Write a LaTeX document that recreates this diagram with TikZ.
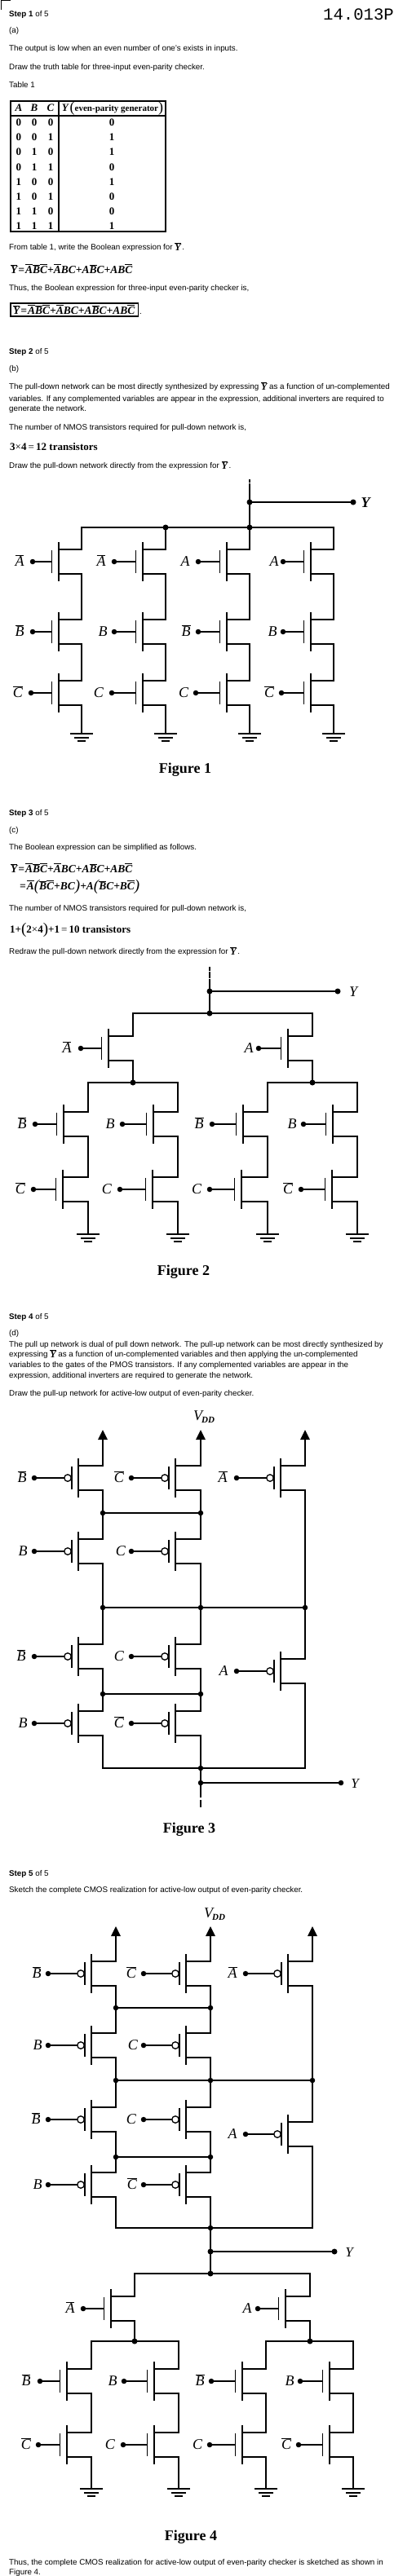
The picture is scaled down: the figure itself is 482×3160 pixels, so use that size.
\documentclass[tikz,border=0pt]{standalone}
\usepackage{fontspec}
\usetikzlibrary{arrows.meta}
\setmainfont{Liberation Sans}
\newfontfamily\ser{Liberation Serif}
\newfontfamily\mon{Liberation Mono}
\newcommand\fs[1]{\fontsize{#1}{#1}\selectfont}
\newcommand\bb[1]{\ensuremath{\overline{\mbox{#1}}}}
\newcommand\fmt{\ser\bfseries\itshape\fs{13.5}}
\newcommand\ybar{\raisebox{-1.5pt}{\ser\bfseries\itshape\fs{12}\bb{Y}}}
\tikzset{
  x=1pt,y=-1pt,
  txt/.style={anchor=base west,inner sep=0pt,font=\fs{9.8}},
  ftxt/.style={anchor=base west,inner sep=0pt,font=\fmt},
  btxt/.style={anchor=base west,inner sep=0pt,font=\ser\bfseries\fs{13}},
  figcap/.style={anchor=base,inner sep=0pt,font=\ser\bfseries\fs{18}},
  lab/.style={anchor=base,inner sep=0pt,font=\ser\itshape\fs{18}},
  ylab/.style={anchor=base,inner sep=0pt,font=\ser\bfseries\itshape\fs{18}},
  wire/.style={line width=1.4pt,line cap=rect,line join=miter},
  hwire/.style={line width=1.8pt,line cap=rect,line join=miter},
  gdot/.style={circle,fill=black,inner sep=0pt,minimum size=6.5pt},
  jdot/.style={circle,fill=black,inner sep=0pt,minimum size=7pt},
  bub/.style={circle,draw=black,fill=white,line width=1.3pt,inner sep=0pt,minimum size=8.5pt},
  cell/.style={anchor=base,inner sep=0pt,font=\ser\bfseries\fs{13}},
  vdd/.style={wire,-{Triangle[length=12pt,width=11.5pt]}},
}
% name, channel x, centre y, right x, dot x, label, label x
\newcommand\nmo[7]{%
  \coordinate (#1-d) at (#4,#3-15);
  \coordinate (#1-s) at (#4,#3+15);
  \node[gdot] (#1-g) at (#5,#3) {};
  \node[lab] (#1-l) at (#7,#3+5.5) {#6};
  \draw[wire] (#1-g) -- (#2-8.5,#3);
  \draw[wire] (#2-8.5,#3-13) -- (#2-8.5,#3+13);
  \draw[wire] (#2,#3-23) -- (#2,#3+23);
  \draw[wire] (#2,#3-15) -- (#1-d);
  \draw[wire] (#2,#3+15) -- (#1-s);
}
\newcommand\pmo[7]{%
  \coordinate (#1-d) at (#4,#3-15);
  \coordinate (#1-s) at (#4,#3+15);
  \node[gdot] (#1-g) at (#5,#3) {};
  \node[lab] (#1-l) at (#7,#3+5.5) {#6};
  \node[bub] (#1-b) at (#2-13,#3) {};
  \draw[wire] (#1-g) -- (#1-b);
  \draw[wire] (#2-8,#3-13) -- (#2-8,#3+13);
  \draw[wire] (#2,#3-23) -- (#2,#3+23);
  \draw[wire] (#2,#3-15) -- (#1-d);
  \draw[wire] (#2,#3+15) -- (#1-s);
}
% name, x, y
\newcommand\gnd[3]{%
  \coordinate (#1) at (#2,#3);
  \draw[wire] (#2-13.5,#3) -- (#2+13.5,#3);
  \draw[wire] (#2-8,#3+5) -- (#2+8,#3+5);
  \draw[wire] (#2-4,#3+9) -- (#2+4,#3+9);
}
\newcommand\sumexp{\bb{Y}\kern1pt=\kern1pt\bb{A}\bb{B}\bb{C}+\bb{A}BC+A\bb{B}C+AB\bb{C}}
\newcommand\bigp[1]{{\ser\mdseries\fs{19}\raisebox{-1.5pt}{#1}}}
\begin{document}
\begin{tikzpicture}
\useasboundingbox (0,0) rectangle (482,3160);
% corner mark and page number
\coordinate (cm1) at (1,12); \coordinate (cm2) at (1,1); \coordinate (cm3) at (12,1);
\draw[wire,line width=1pt] (cm1) -- (cm2) -- (cm3);
\node[anchor=base west,inner sep=0pt,font=\mon\fs{20.6}] (pno) at (396,25) {14.013P};
% Step 1
\node[txt] (t1) at (11,21) {\textbf{Step 1} of 5};
\node[txt] (t2) at (11,41) {(a)};
\node[txt] (t3) at (11,63) {The output is low when an even number of one's exists in inputs.};
\node[txt] (t4) at (11,86) {Draw the truth table for three-input even-parity checker.};
\node[txt] (t5) at (11,108) {Table 1};
% table
\draw[wire] (13,124) rectangle (203,284);
\coordinate (h1) at (13,142); \coordinate (h2) at (203,142);
\coordinate (v1) at (72,124); \coordinate (v2) at (72,284);
\draw[wire] (h1) -- (h2);
\draw[wire] (v1) -- (v2);
\node[cell,font=\ser\bfseries\itshape\fs{13}] (ha) at (23,137) {A};
\node[cell,font=\ser\bfseries\itshape\fs{13}] (hb) at (42,137) {B};
\node[cell,font=\ser\bfseries\itshape\fs{13}] (hc) at (62,137) {C};
\node[cell,font=\ser\bfseries\fs{11}] (hy) at (138,137) {{\itshape\fs{13}Y}\,{\ser\mdseries\fs{18}\raisebox{-1pt}{(}}even-parity generator{\ser\mdseries\fs{18}\raisebox{-1pt}{)}}};
\foreach \a/\b/\c/\y [count=\i from 0] in {0/0/0/0,0/0/1/1,0/1/0/1,0/1/1/0,1/0/0/1,1/0/1/0,1/1/0/0,1/1/1/1}{
  \node[cell] (ra\i) at (23,{154.5+18.2*\i}) {\a};
  \node[cell] (rb\i) at (42,{154.5+18.2*\i}) {\b};
  \node[cell] (rc\i) at (62,{154.5+18.2*\i}) {\c};
  \node[cell] (ry\i) at (137,{154.5+18.2*\i}) {\y};
}
\node[txt] (t6) at (11,306) {From table 1, write the Boolean expression for \ybar\,.};
\node[ftxt] (f1) at (13,335) {\sumexp};
\node[txt] (t7) at (11,356) {Thus, the Boolean expression for three-input even-parity checker is,};
\node[ftxt] (f2) at (16,385) {\sumexp};
\draw[wire] (13,372) rectangle (169.5,388);
\node[txt] (t7b) at (171,385) {.};
% Step 2
\node[txt] (t8) at (11,434) {\textbf{Step 2} of 5};
\node[txt] (t9) at (11,455) {(b)};
\node[txt] (t10) at (11,477) {The pull-down network can be most directly synthesized by expressing \ybar\ as a function of un-complemented};
\node[txt] (t11) at (11,492) {variables. If any complemented variables are appear in the expression, additional inverters are required to};
\node[txt] (t12) at (11,504) {generate the network.};
\node[txt] (t13) at (11,527) {The number of NMOS transistors required for pull-down network is,};
\node[btxt] (t14) at (12,552) {3{\mdseries×}4{\mdseries\,=\,}12 transistors};
\node[txt] (t15) at (11,574) {Draw the pull-down network directly from the expression for \ybar\,.};
% Figure 1
\coordinate (a0) at (306,589);
\node[jdot] (a1) at (306,616) {};
\node[jdot] (a2) at (306,647) {};
\node[jdot] (a3) at (203,647) {};
\node[jdot] (ay) at (433,616) {};
\node[ylab] (ayl) at (448,622) {Y};
\draw[hwire,dash pattern=on 2.5pt off 2.5pt on 7pt off 2pt on 40pt] (a0) -- (a1);
\draw[hwire] (a1) -- (a2);
\draw[hwire] (a1) -- (ay);
\nmo{n11}{72}{689}{100}{40}{\bb{A}}{24}
\nmo{n21}{175}{689}{203}{140}{\bb{A}}{124}
\nmo{n31}{278}{689}{306}{243}{A}{227}
\nmo{n41}{381}{689}{409}{347}{A}{336}
\nmo{n12}{72}{775}{100}{40}{\bb{B}}{24}
\nmo{n22}{175}{775}{203}{140}{B}{126}
\nmo{n32}{278}{775}{306}{243}{\bb{B}}{228}
\nmo{n42}{381}{775}{409}{347}{B}{334}
\nmo{n13}{72}{850}{100}{38}{\bb{C}}{22}
\nmo{n23}{175}{850}{203}{137}{C}{121}
\nmo{n33}{278}{850}{306}{240}{C}{225}
\nmo{n43}{381}{850}{409}{345}{\bb{C}}{330}
\draw[wire] (n11-d) |- (a3);
\draw[wire] (a3) -- (a2);
\draw[wire] (a2) -| (n41-d);
\draw[wire] (a3) -- (n21-d);
\draw[hwire] (a2) -- (n31-d);
\foreach \c in {1,2,3,4}{
  \draw[wire] (n\c1-s) -- (n\c2-d);
  \draw[wire] (n\c2-s) -- (n\c3-d);
}
\gnd{g11}{100}{900}\gnd{g12}{203}{900}\gnd{g13}{306}{900}\gnd{g14}{409}{900}
\draw[wire] (n13-s) -- (g11);
\draw[wire] (n23-s) -- (g12);
\draw[wire] (n33-s) -- (g13);
\draw[wire] (n43-s) -- (g14);
\node[figcap] (c1) at (227,948) {Figure 1};
% Step 3
\node[txt] (t16) at (11,1000) {\textbf{Step 3} of 5};
\node[txt] (t17) at (11,1021) {(c)};
\node[txt] (t18) at (11,1042) {The Boolean expression can be simplified as follows.};
\node[ftxt] (f3) at (13,1070) {\sumexp};
\node[ftxt] (f4) at (24,1091) {=\kern1pt\bb{A}\bigp{(}\bb{B}\bb{C}+BC\bigp{)}+A\bigp{(}\bb{B}C+B\bb{C}\bigp{)}};
\node[txt] (t19) at (11,1117) {The number of NMOS transistors required for pull-down network is,};
\node[btxt] (t20) at (12,1144) {1+{\mdseries\fs{19}\raisebox{-1.5pt}{(}}2{\mdseries×}4{\mdseries\fs{19}\raisebox{-1.5pt}{)}}+1{\mdseries\,=\,}10 transistors};
\node[txt] (t21) at (11,1170) {Redraw the pull-down network directly from the expression for \ybar\,.};
% Figure 2
\coordinate (b0) at (257,1187);
\node[jdot] (b1) at (257,1216) {};
\node[jdot] (b2) at (257,1243) {};
\node[jdot] (by) at (414,1216) {};
\node[lab,font=\ser\itshape\fs{18}] (byl) at (433,1222) {Y};
\node[jdot] (b3) at (163,1328) {};
\node[jdot] (b4) at (383,1328) {};
\draw[hwire,dash pattern=on 3pt off 2.5pt on 7pt off 2pt on 40pt] (b0) -- (b1);
\draw[hwire] (b1) -- (b2);
\draw[wire] (b1) -- (by);
\nmo{m1}{133}{1286}{163}{99}{\bb{A}}{82}
\nmo{m2}{353}{1286}{383}{317}{A}{305}
\draw[hwire] (m1-d) |- (b2);
\draw[wire] (b2) -| (m2-d);
\draw[wire] (m1-s) -- (b3);
\draw[hwire] (m2-s) -- (b4);
\nmo{m11}{78}{1379}{108}{43}{\bb{B}}{27}
\nmo{m12}{188}{1379}{218}{150}{B}{135}
\nmo{m13}{298}{1379}{328}{260}{\bb{B}}{244}
\nmo{m14}{408}{1379}{438}{372}{B}{358}
\nmo{m21}{77}{1459}{108}{41}{\bb{C}}{25}
\nmo{m22}{187}{1459}{218}{147}{C}{131}
\nmo{m23}{296}{1459}{328}{257}{C}{241}
\nmo{m24}{407}{1459}{438}{369}{\bb{C}}{353}
\draw[hwire] (m11-d) |- (b3);
\draw[wire] (b3) -| (m12-d);
\draw[hwire] (m13-d) |- (b4);
\draw[wire] (b4) -| (m14-d);
\foreach \c in {1,2,3,4}{
  \draw[wire] (m1\c-s) -- (m2\c-d);
}
\gnd{g21}{108}{1514}\gnd{g22}{218}{1514}\gnd{g23}{328}{1514}\gnd{g24}{438}{1514}
\draw[wire] (m21-s) -- (g21);
\draw[wire] (m22-s) -- (g22);
\draw[wire] (m23-s) -- (g23);
\draw[wire] (m24-s) -- (g24);
\node[figcap] (c2) at (225,1564) {Figure 2};
% Step 4
\node[txt] (t22) at (11,1618) {\textbf{Step 4} of 5};
\node[txt] (t23) at (11,1638) {(d)};
\node[txt] (t24) at (11,1652) {The pull up network is dual of pull down network. The pull-up network can be most directly synthesized by};
\node[txt] (t25) at (11,1664) {expressing \ybar\ as a function of un-complemented variables and then applying the un-complemented};
\node[txt] (t26) at (11,1677) {variables to the gates of the PMOS transistors. If any complemented variables are appear in the};
\node[txt] (t27) at (11,1690) {expression, additional inverters are required to generate the network.};
\node[txt] (t28) at (11,1712) {Draw the pull-up network for active-low output of even-parity checker.};
% Figure 3
\node[anchor=base west,inner sep=0pt,font=\ser\itshape\fs{18}] (vd1) at (237,1742) {V\raisebox{-3pt}{\hspace{-1pt}\bfseries\fs{11}DD}};
\coordinate (va1) at (126,1754);
\coordinate (va2) at (246,1754);
\coordinate (va3) at (374,1754);
\pmo{p11}{96}{1813}{126}{42}{\bb{B}}{27}
\pmo{p12}{215}{1813}{246}{161}{\bb{C}}{146}
\pmo{p13}{344}{1813}{374}{290}{\bb{A}}{273}
\pmo{p21}{96}{1903}{126}{42}{B}{28}
\pmo{p22}{215}{1903}{246}{161}{C}{148}
\pmo{p31}{96}{2032}{126}{42}{\bb{B}}{26}
\pmo{p32}{215}{2032}{246}{161}{C}{146}
\pmo{p33}{344}{2050}{374}{290}{A}{274}
\pmo{p41}{96}{2114}{126}{42}{B}{28}
\pmo{p42}{215}{2114}{246}{161}{\bb{C}}{146}
\draw[vdd] (p11-d) -- (va1);
\draw[vdd] (p12-d) -- (va2);
\draw[vdd] (p13-d) -- (va3);
\node[gdot] (q1) at (126,1856) {};
\node[gdot] (q2) at (246,1856) {};
\node[gdot] (q3) at (126,1972) {};
\node[gdot] (q4) at (246,1972) {};
\node[gdot] (q5) at (374,1972) {};
\node[gdot] (q6) at (126,2078) {};
\node[gdot] (q7) at (246,2078) {};
\node[gdot] (q8) at (246,2169) {};
\node[gdot] (q9) at (246,2187) {};
\node[gdot] (qy) at (418,2187) {};
\node[lab,font=\ser\itshape\fs{17}] (qyl) at (435,2193) {Y};
\coordinate (q0) at (246,2216);
\draw[wire] (q1) -- (q2);
\draw[wire] (q3) -- (q4);
\draw[wire] (q4) -- (q5);
\draw[wire] (q6) -- (q7);
\draw[wire] (p11-s) -- (q1); \draw[wire] (q1) -- (p21-d);
\draw[wire] (p12-s) -- (q2); \draw[wire] (q2) -- (p22-d);
\draw[wire] (p21-s) -- (q3); \draw[wire] (q3) -- (p31-d);
\draw[wire] (p22-s) -- (q4); \draw[wire] (q4) -- (p32-d);
\draw[wire] (p13-s) -- (q5); \draw[wire] (q5) -- (p33-d);
\draw[wire] (p31-s) -- (q6); \draw[wire] (q6) -- (p41-d);
\draw[wire] (p32-s) -- (q7); \draw[wire] (q7) -- (p42-d);
\draw[wire] (p41-s) |- (q8);
\draw[wire] (p42-s) -- (q8);
\draw[wire] (p33-s) |- (q8);
\draw[hwire] (q8) -- (q9);
\draw[wire] (q9) -- (qy);
\draw[wire,dash pattern=on 14pt off 4pt on 9pt] (q9) -- (q0);
\node[figcap] (c3) at (232,2248) {Figure 3};
% Step 5
\node[txt] (t29) at (11,2301) {\textbf{Step 5} of 5};
\node[txt] (t30) at (11,2321) {Sketch the complete CMOS realization for active-low output of even-parity checker.};
% Figure 4
\node[anchor=base west,inner sep=0pt,font=\ser\itshape\fs{18}] (vd2) at (250,2352) {V\raisebox{-3pt}{\hspace{-1pt}\bfseries\fs{11}DD}};
\coordinate (wa1) at (142,2363);
\coordinate (wa2) at (258,2363);
\coordinate (wa3) at (383,2363);
\pmo{r11}{112}{2421}{142}{59}{\bb{B}}{45}
\pmo{r12}{228}{2421}{258}{176}{\bb{C}}{161}
\pmo{r13}{353}{2421}{383}{301}{\bb{A}}{285}
\pmo{r21}{112}{2509}{142}{59}{B}{46}
\pmo{r22}{228}{2509}{258}{176}{C}{163}
\pmo{r31}{112}{2600}{142}{59}{\bb{B}}{44}
\pmo{r32}{228}{2600}{258}{176}{C}{161}
\pmo{r33}{353}{2618}{383}{301}{A}{285}
\pmo{r41}{112}{2680}{142}{59}{B}{46}
\pmo{r42}{228}{2680}{258}{176}{\bb{C}}{162}
\draw[vdd] (r11-d) -- (wa1);
\draw[vdd] (r12-d) -- (wa2);
\draw[vdd] (r13-d) -- (wa3);
\node[gdot] (w1) at (142,2463) {};
\node[gdot] (w2) at (258,2463) {};
\node[gdot] (w3) at (142,2552) {};
\node[gdot] (w4) at (258,2552) {};
\node[gdot] (w5) at (383,2552) {};
\node[gdot] (w6) at (142,2646) {};
\node[gdot] (w7) at (258,2646) {};
\node[gdot] (w8) at (258,2733) {};
\node[jdot] (w9) at (258,2762) {};
\node[jdot] (w10) at (258,2789) {};
\node[jdot] (wy) at (410,2762) {};
\node[lab,font=\ser\itshape\fs{17}] (wyl) at (428,2768) {Y};
\draw[wire] (w1) -- (w2);
\draw[wire] (w3) -- (w4);
\draw[wire] (w4) -- (w5);
\draw[wire] (w6) -- (w7);
\draw[wire] (r11-s) -- (w1); \draw[wire] (w1) -- (r21-d);
\draw[wire] (r12-s) -- (w2); \draw[wire] (w2) -- (r22-d);
\draw[wire] (r21-s) -- (w3); \draw[wire] (w3) -- (r31-d);
\draw[wire] (r22-s) -- (w4); \draw[wire] (w4) -- (r32-d);
\draw[wire] (r13-s) -- (w5); \draw[wire] (w5) -- (r33-d);
\draw[wire] (r31-s) -- (w6); \draw[wire] (w6) -- (r41-d);
\draw[wire] (r32-s) -- (w7); \draw[wire] (w7) -- (r42-d);
\draw[wire] (r41-s) |- (w8);
\draw[wire] (r42-s) -- (w8);
\draw[wire] (r33-s) |- (w8);
\draw[hwire] (w8) -- (w9);
\draw[hwire] (w9) -- (w10);
\draw[wire] (w9) -- (wy);
\nmo{s1}{136}{2832}{165}{102}{\bb{A}}{86}
\nmo{s2}{350}{2832}{380}{316}{A}{303}
\node[jdot] (w11) at (165,2872) {};
\node[jdot] (w12) at (380,2872) {};
\draw[wire] (s1-d) |- (w10);
\draw[wire] (w10) -| (s2-d);
\draw[wire] (s1-s) -- (w11);
\draw[wire] (s2-s) -- (w12);
\nmo{u11}{82}{2921}{112}{49}{\bb{B}}{32}
\nmo{u12}{189}{2921}{219}{152}{B}{138}
\nmo{u13}{297}{2921}{326}{259}{\bb{B}}{245}
\nmo{u14}{404}{2921}{433}{368}{B}{355}
\nmo{u21}{82}{2999}{112}{47}{\bb{C}}{32}
\nmo{u22}{189}{2999}{219}{151}{C}{135}
\nmo{u23}{297}{2999}{326}{257}{C}{242}
\nmo{u24}{404}{2999}{433}{366}{\bb{C}}{351}
\draw[wire] (u11-d) |- (w11);
\draw[wire] (w11) -| (u12-d);
\draw[wire] (u13-d) |- (w12);
\draw[wire] (w12) -| (u14-d);
\foreach \c in {1,2,3,4}{
  \draw[wire] (u1\c-s) -- (u2\c-d);
}
\gnd{g41}{112}{3053}\gnd{g42}{219}{3053}\gnd{g43}{326}{3053}\gnd{g44}{433}{3053}
\draw[wire] (u21-s) -- (g41);
\draw[wire] (u22-s) -- (g42);
\draw[wire] (u23-s) -- (g43);
\draw[wire] (u24-s) -- (g44);
\node[figcap] (c4) at (234,3116) {Figure 4};
\node[txt] (t31) at (11,3146) {Thus, the complete CMOS realization for active-low output of even-parity checker is sketched as shown in};
\node[txt] (t32) at (11,3158) {Figure 4.};
\end{tikzpicture}
\end{document}
